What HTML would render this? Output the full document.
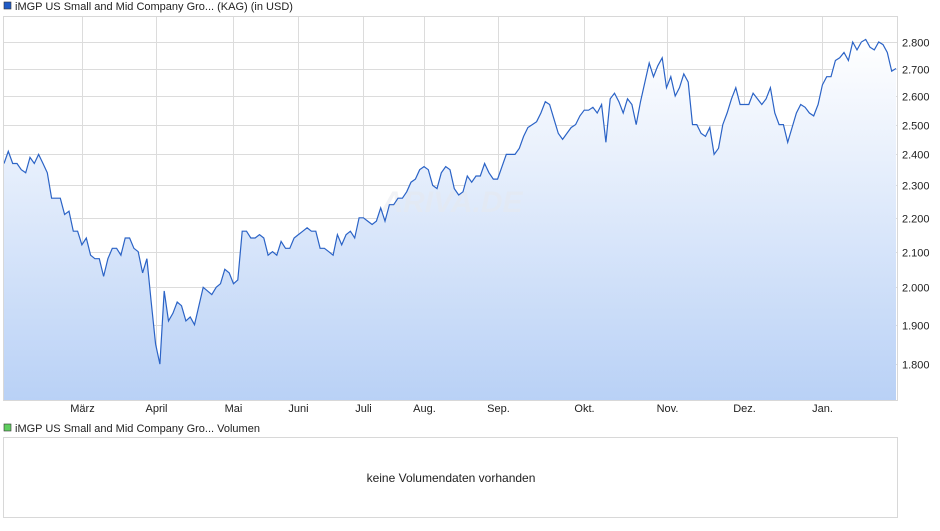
<!DOCTYPE html>
<html><head><meta charset="utf-8"><style>
body{margin:0;background:#fff;font-family:"Liberation Sans",Arial,sans-serif;}
svg text{font-family:"Liberation Sans",Arial,sans-serif;}
</style></head><body>
<svg id="c" width="940" height="526" xmlns="http://www.w3.org/2000/svg">
<defs><linearGradient id="g" x1="0" y1="0" x2="0" y2="1">
<stop offset="0" stop-color="#ffffff"/><stop offset="1" stop-color="#b9d1f6"/></linearGradient></defs>
<rect x="4" y="2" width="7" height="7" fill="#1f5bc6" stroke="#333" stroke-width="0.6"/>
<text x="15" y="10" font-size="11" fill="#222">iMGP US Small and Mid Company Gro... (KAG) (in USD)</text>
<g id="grid"></g>
<path id="area" fill="url(#g)"/>
<text x="452" y="212" font-size="30" font-style="italic" font-weight="bold" fill="#e6e9ee" opacity="0.5" text-anchor="middle">ARIVA.DE</text>
<path id="line" fill="none" stroke="#2b63c6" stroke-width="1.2"/>
<rect x="3.5" y="16.5" width="894" height="384" fill="none" stroke="#d8d8d8"/>
<g id="ylab"></g><g id="xlab"></g>
<rect x="4" y="424" width="7" height="7" fill="#5fce5f" stroke="#333" stroke-width="0.6"/>
<text x="15" y="432" font-size="11" fill="#222">iMGP US Small and Mid Company Gro... Volumen</text>
<rect x="3.5" y="437.5" width="894" height="80" fill="#fff" stroke="#d8d8d8"/>
<text x="451" y="482" font-size="12" fill="#222" text-anchor="middle">keine Volumendaten vorhanden</text>
</svg>
<script>
const values=[2.37,2.41,2.37,2.37,2.35,2.34,2.39,2.37,2.40,2.37,2.34,2.26,2.26,2.26,2.21,2.22,2.16,2.16,2.12,2.14,2.09,2.08,2.08,2.03,2.08,2.11,2.11,2.09,2.14,2.14,2.11,2.10,2.04,2.08,1.96,1.85,1.80,1.99,1.91,1.93,1.96,1.95,1.91,1.92,1.90,1.95,2.00,1.99,1.98,2.00,2.01,2.05,2.04,2.01,2.02,2.16,2.16,2.14,2.14,2.15,2.14,2.09,2.10,2.09,2.13,2.11,2.11,2.14,2.15,
2.16,2.17,2.16,2.16,2.11,2.11,2.10,2.09,2.15,2.12,2.15,2.16,2.14,2.20,2.20,2.19,2.18,2.19,2.23,2.19,2.24,2.24,2.26,2.26,2.28,2.31,2.32,2.35,2.36,2.35,2.30,2.29,2.34,2.36,2.35,2.29,2.27,2.28,2.33,2.31,2.33,2.33,2.37,2.34,2.32,2.32,2.36,2.40,2.40,2.40,2.42,2.46,2.49,2.50,2.51,2.54,2.58,2.57,2.52,2.47,2.45,2.47,2.49,2.50,2.53,2.55,2.55,2.56,2.54,2.57,2.44,2.59,2.61,2.58,2.54,2.59,2.57,2.50,2.58,2.65,2.72,2.67,2.71,2.74,2.63,2.67,2.60,2.63,2.68,2.65,2.50,2.50,2.47,2.46,2.49,2.40,2.42,2.50,2.54,2.59,2.63,2.57,2.57,2.57,2.61,2.59,2.57,2.59,2.63,2.54,2.50,2.50,2.44,2.49,2.54,2.57,2.56,2.54,2.53,2.57,2.64,2.67,2.67,2.73,2.74,2.76,2.73,2.80,2.77,2.80,2.81,2.78,2.77,2.80,2.79,2.76,2.69,2.70];
const yTicks=[1.8,1.9,2.0,2.1,2.2,2.3,2.4,2.5,2.6,2.7,2.8];
const yTickLabels=["1.800","1.900","2.000","2.100","2.200","2.300","2.400","2.500","2.600","2.700","2.800"];
const monthLabels=["März","April","Mai","Juni","Juli","Aug.","Sep.","Okt.","Nov.","Dez.","Jan."];
const monthIdx=[18,35,53,68,83,97,114,134,153,171,189];
const NS="http://www.w3.org/2000/svg";
function y(v){return 42+Math.log(2.8/v)*729;}
function x(i){return 4+i*(892/(values.length-1));}
function el(t,a,p){const e=document.createElementNS(NS,t);for(const k in a)e.setAttribute(k,a[k]);p.appendChild(e);return e;}
const grid=document.getElementById('grid'),yl=document.getElementById('ylab'),xl=document.getElementById('xlab');
yTicks.forEach((v,k)=>{const yy=Math.round(y(v))+0.5;
const l=el('line',{x1:4,x2:897,y1:yy,y2:yy,stroke:'#dcdcdc'},grid);


const t=el('text',{x:902,y:yy+4,'font-size':11,fill:'#222'},yl);t.textContent=yTickLabels[k];

});
monthIdx.forEach((i,k)=>{const xx=Math.round(x(i))+0.5;
const l=el('line',{x1:xx,x2:xx,y1:17,y2:400,stroke:'#dcdcdc'},grid);


const t=el('text',{x:xx,y:412,'font-size':11,fill:'#222','text-anchor':'middle'},xl);t.textContent=monthLabels[k];

});
let d='';values.forEach((v,i)=>{d+=(i?'L':'M')+x(i).toFixed(1)+','+y(v).toFixed(1);});
document.getElementById('line').setAttribute('d',d);
document.getElementById('area').setAttribute('d',d+'L'+x(values.length-1)+',400L4,400Z');
</script>
</body></html>
